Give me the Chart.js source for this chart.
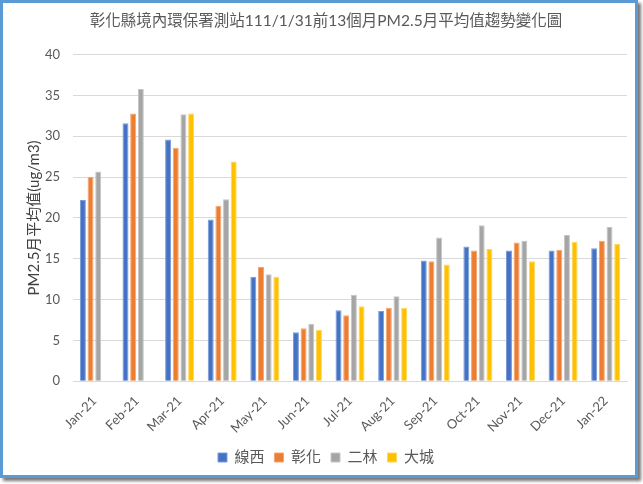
<!DOCTYPE html>
<html>
<head>
<meta charset="utf-8">
<script src="https://cdn.jsdelivr.net/npm/chart.js@4"></script>
<style>
  body { margin: 0; background: #fff; }
  .frame {
    position: absolute; left: 0; top: 0;
    width: 632px; height: 472px;
    border: 3px solid #5b9bd5;
    box-shadow: 3px 3px 3px #777;
    background: #fff;
  }
</style>
</head>
<body>
<div class="frame"><canvas id="myChart" width="632" height="472"></canvas></div>
<script>
const months = ['Jan-21', 'Feb-21', 'Mar-21', 'Apr-21', 'May-21', 'Jun-21', 'Jul-21',
  'Aug-21', 'Sep-21', 'Oct-21', 'Nov-21', 'Dec-21', 'Jan-22'];

const xianxi  = [22.2, 31.6, 29.6, 19.8, 12.8, 6.0, 8.7, 8.6, 14.8, 16.5, 16.0, 16.0, 16.3];
const changhua = [25.0, 32.8, 28.6, 21.5, 14.0, 6.5, 8.1, 9.0, 14.7, 16.0, 17.0, 16.1, 17.2];
const erlin   = [25.7, 35.8, 32.7, 22.3, 13.1, 7.0, 10.6, 10.4, 17.6, 19.1, 17.2, 17.9, 18.9];
const dacheng = [null, null, 32.8, 26.9, 12.8, 6.3, 9.2, 9.0, 14.3, 16.2, 14.7, 17.1, 16.8];

const yTicks = [0, 5, 10, 15, 20, 25, 30, 35, 40];

const fontFam = "Lato, 'Noto Sans CJK TC', sans-serif";

const makeSet = (label, data, color, edge) => ({
  label: label,
  data: data,
  backgroundColor: color,
  borderColor: edge,
  borderWidth: 1,
  barPercentage: 0.78,
  categoryPercentage: 0.72
});

const ctx = document.getElementById('myChart').getContext('2d');
const chart = new Chart(ctx, {
  type: 'bar',
  data: {
    labels: months,
    datasets: [
      makeSet('線西', xianxi, '#4472c4', '#7a9bd8'),
      makeSet('彰化', changhua, '#ed7d31', '#f3a673'),
      makeSet('二林', erlin, '#a5a5a5', '#c6c6c6'),
      makeSet('大城', dacheng, '#ffc000', '#ffd65c')
    ]
  },
  options: {
    responsive: false,
    animation: false,
    layout: { padding: { left: 22, right: 8, top: 5, bottom: 0 } },
    plugins: {
      title: {
        display: true,
        text: '彰化縣境內環保署測站111/1/31前13個月PM2.5月平均值趨勢變化圖',
        color: '#595959',
        font: { family: fontFam, size: 15.5, weight: 'normal' },
        padding: { top: 4, bottom: 24 }
      },
      legend: {
        position: 'bottom',
        labels: {
          color: '#595959',
          font: { family: fontFam, size: 15 },
          boxWidth: 9,
          boxHeight: 9,
          padding: 10
        }
      },
      tooltip: { enabled: false }
    },
    scales: {
      y: {
        min: 0,
        max: 40,
        afterBuildTicks: (axis) => {
          axis.ticks = yTicks.map(v => ({ value: v }));
        },
        border: { display: false },
        grid: { color: '#d9d9d9', lineWidth: 1, drawTicks: false },
        ticks: {
          color: '#595959',
          font: { family: fontFam, size: 13 },
          padding: 13
        },
        title: {
          display: true,
          text: 'PM2.5月平均值(ug/m3)',
          color: '#404040',
          font: { family: fontFam, size: 15 },
          padding: { top: 0, bottom: -11 }
        }
      },
      x: {
        border: { color: '#d9d9d9' },
        grid: { display: false },
        ticks: {
          color: '#595959',
          font: { family: fontFam, size: 13 },
          minRotation: 45,
          maxRotation: 45,
          padding: 4
        }
      }
    }
  }
});
</script>
</body>
</html>
